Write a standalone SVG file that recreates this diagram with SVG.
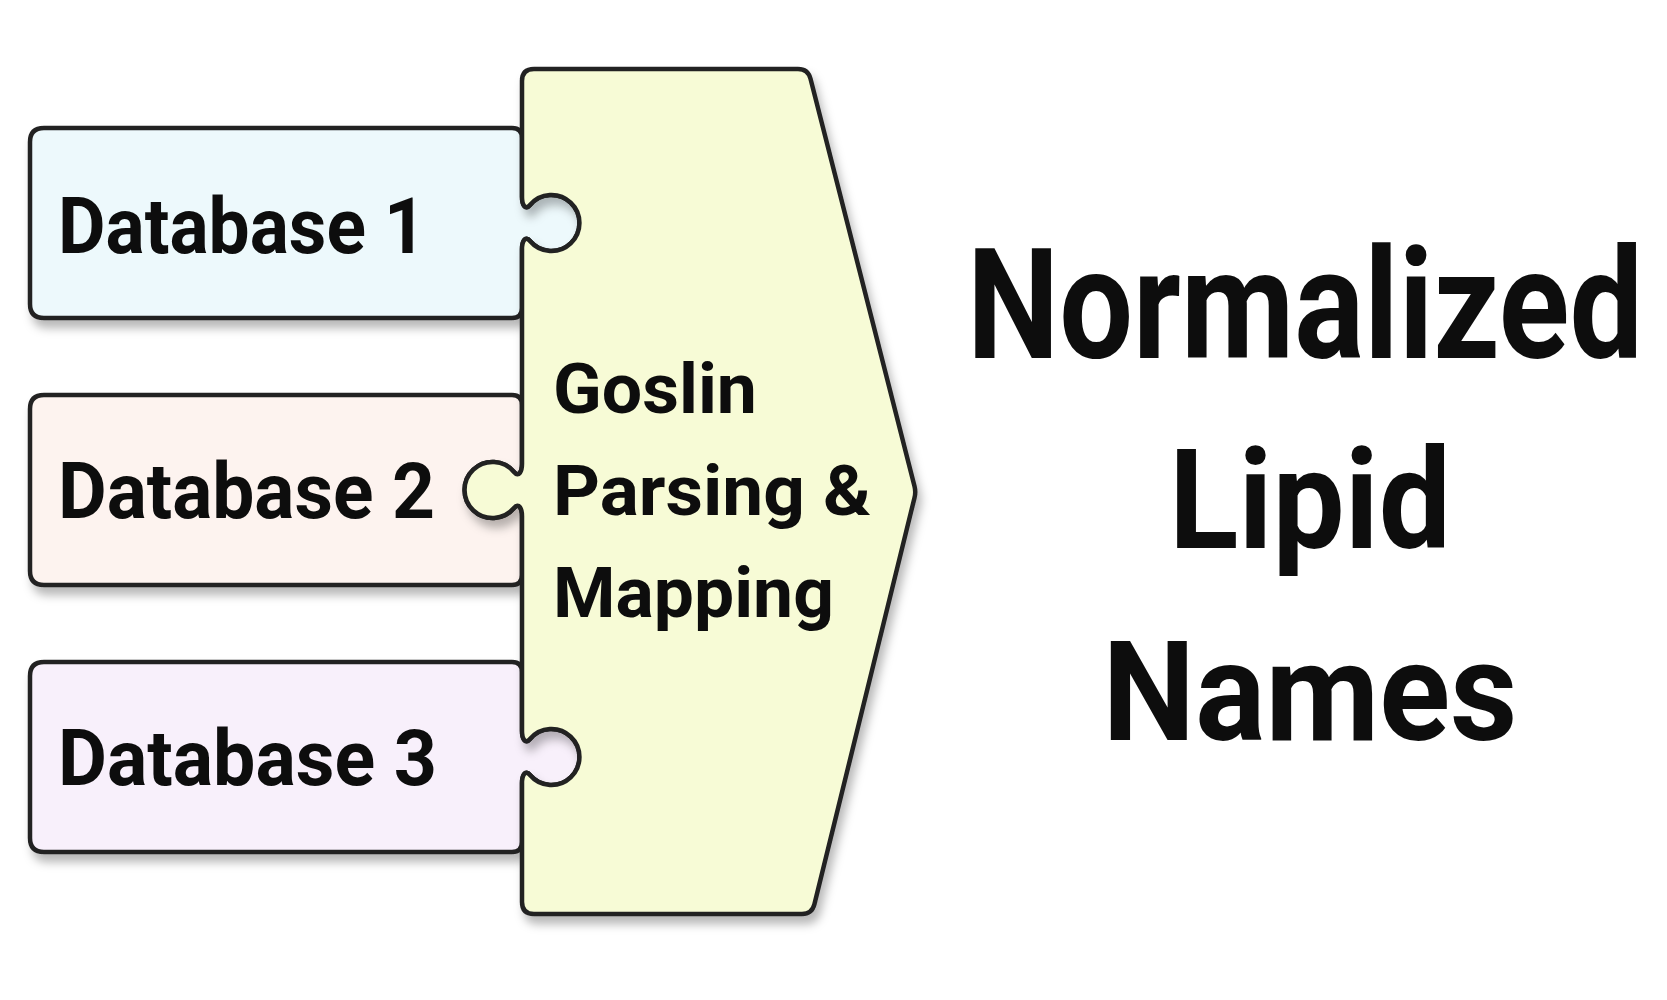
<svg xmlns="http://www.w3.org/2000/svg" width="1667" height="1000" viewBox="0 0 1667 1000">
<style>
.shape{stroke:#222;stroke-width:4.5;stroke-linejoin:round;filter:url(#sh)}
.t{font-family:Roboto,"Liberation Sans",Arial,sans-serif;font-weight:700;fill:#0d0d0d}
.db{font-size:78px}
.mid{font-size:70px}
.big{font-size:140px;text-anchor:middle}
</style>
<defs>
<filter id="sh" x="-10%" y="-10%" width="130%" height="130%">
<feDropShadow dx="4" dy="8" stdDeviation="5" flood-color="#000" flood-opacity="0.28"/>
</filter>
</defs>
<rect width="1667" height="1000" fill="#fff"/>
<g id="db1">
<path class="shape" fill="#edf9fc" d="M44,128 H512 Q522,128 522,138 V197 C522,204 525,211 530,205 A28 28 0 1 1 530,241 C525,235 522,242 522,249 V308 Q522,318 512,318 H44 Q30,318 30,304 V142 Q30,128 44,128 Z"/>
<text class="t db" x="58" y="253" textLength="368" lengthAdjust="spacingAndGlyphs">Database 1</text>
</g>
<g id="db2">
<path class="shape" fill="#fdf3ef" d="M44,395 H512 Q522,395 522,405 V464 C522,471 519,478 514,472 A28 28 0 1 0 514,508 C519,502 522,509 522,516 V575 Q522,585 512,585 H44 Q30,585 30,571 V409 Q30,395 44,395 Z"/>
<text class="t db" x="58" y="518" textLength="377" lengthAdjust="spacingAndGlyphs">Database 2</text>
</g>
<g id="db3">
<path class="shape" fill="#f8f0fb" d="M44,662 H512 Q522,662 522,672 V731 C522,738 525,745 530,739 A28 28 0 1 1 530,775 C525,769 522,776 522,783 V842 Q522,852 512,852 H44 Q30,852 30,838 V676 Q30,662 44,662 Z"/>
<text class="t db" x="58" y="785" textLength="379" lengthAdjust="spacingAndGlyphs">Database 3</text>
</g>
<g id="goslin">
<path class="shape" fill="#f7fbd6" d="M534,69 H798 Q808,69 810.5,78.7 L914.5,486.2 Q916,492 914.5,497.8 L814.4,904.3 Q812,914 802,914 H534 Q522,914 522,902 V783 C522,776 525,769 530,775 A28 28 0 1 0 530,739 C525,745 522,738 522,731 V516 C522,509 519,502 514,508 A28 28 0 1 1 514,472 C519,478 522,471 522,464 V249 C522,242 525,235 530,241 A28 28 0 1 0 530,205 C525,211 522,204 522,197 V81 Q522,69 534,69 Z"/>
<text class="t mid" x="553" y="413" textLength="204" lengthAdjust="spacingAndGlyphs">Goslin</text>
<text class="t mid" x="553" y="515" textLength="318" lengthAdjust="spacingAndGlyphs">Parsing &amp;</text>
<text class="t mid" x="553" y="617" textLength="281" lengthAdjust="spacingAndGlyphs">Mapping</text>
</g>
<g id="output">
<text class="t big" transform="translate(1305,358) scale(1,1.1)" x="0" y="0" font-size="126" textLength="676" lengthAdjust="spacingAndGlyphs">Normalized</text>
<text class="t big" x="1310" y="548" textLength="282" lengthAdjust="spacingAndGlyphs">Lipid</text>
<text class="t big" x="1310" y="740" textLength="415" lengthAdjust="spacingAndGlyphs">Names</text>
</g>
<g id="connectors"></g>
</svg>
